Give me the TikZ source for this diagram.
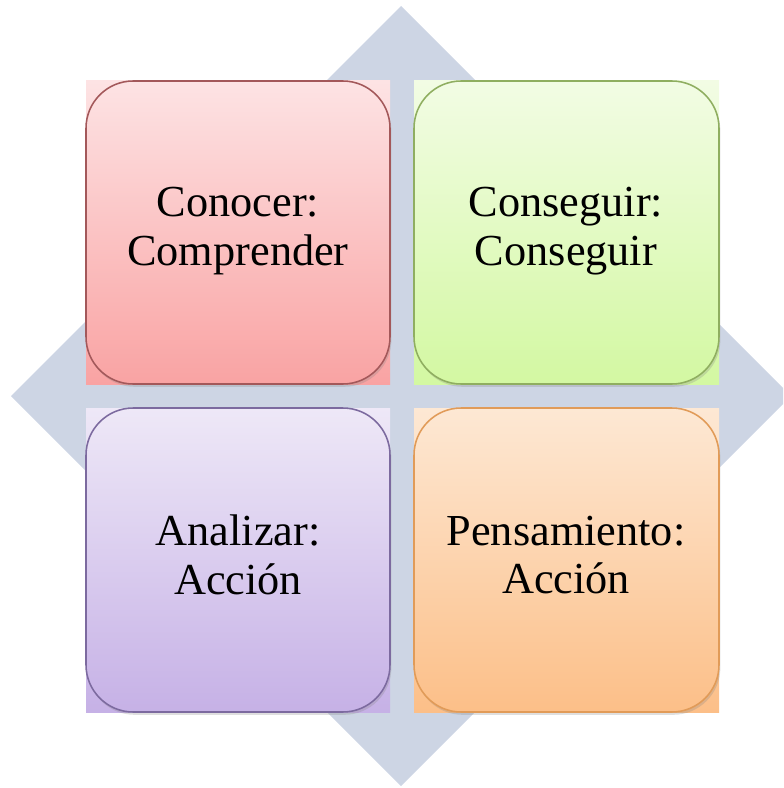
\documentclass[tikz,border=0pt]{standalone}
\usepackage{fontspec}
\setmainfont{Liberation Serif}
\usetikzlibrary{shadows}
\definecolor{diamondbg}{HTML}{CDD5E4}
\definecolor{redtop}{HTML}{FDE3E4}
\definecolor{redbot}{HTML}{F9A3A3}
\definecolor{redline}{HTML}{A3585A}
\definecolor{greentop}{HTML}{F2FCE4}
\definecolor{greenbot}{HTML}{D3F8A2}
\definecolor{greenline}{HTML}{8FAE60}
\definecolor{purpletop}{HTML}{EEE8F7}
\definecolor{purplebot}{HTML}{C6B1E6}
\definecolor{purpleline}{HTML}{7C6A9F}
\definecolor{orangetop}{HTML}{FDE8D4}
\definecolor{orangebot}{HTML}{FCBF88}
\definecolor{orangeline}{HTML}{E19B58}
% x1 y1 x2 y2 colour-prefix
\newcommand{\tile}[5]{ \shade[top color=#5top, bottom color=#5bot] ( #1 , #2 ) rectangle ( #3 , #4 ); \shade[top color=#5top, bottom color=#5bot, draw=#5line, line width=1.1pt, rounded corners=1.18cm, drop shadow={opacity=0.25, shadow xshift=1pt, shadow yshift=-2pt}] ( #1 , #2 ) rectangle ( #3 , #4 );}
\tikzset{tiletext/.style={align=center, font=\fontsize{31.5}{34.6}\selectfont}}

\begin{document}
\begin{tikzpicture}[x=0.025cm, y=-0.025cm]
        \useasboundingbox (0,0) rectangle (783,788);
        \clip (0,0) rectangle (783,788);
        \fill[diamondbg] (401,6) -- (791,396) -- (401,786) -- (11,396) -- cycle;
        \tile{86}{81}{390}{384}{red}
        \tile{414}{81}{719}{384}{green}
        \tile{86}{408}{390}{712}{purple}
        \tile{414}{408}{719}{712}{orange}
        \node[tiletext] (conocer) at (238,231) {Conocer:\\Comprender};
        \node[tiletext] (conseguir) at (566,231) {Conseguir:\\Conseguir};
        \node[tiletext] (analizar) at (238,555) {Analizar:\\Acción};
        \node[tiletext] (pensamiento) at (566,555) {Pensamiento:\\Acción};
    \end{tikzpicture}
\end{document}
